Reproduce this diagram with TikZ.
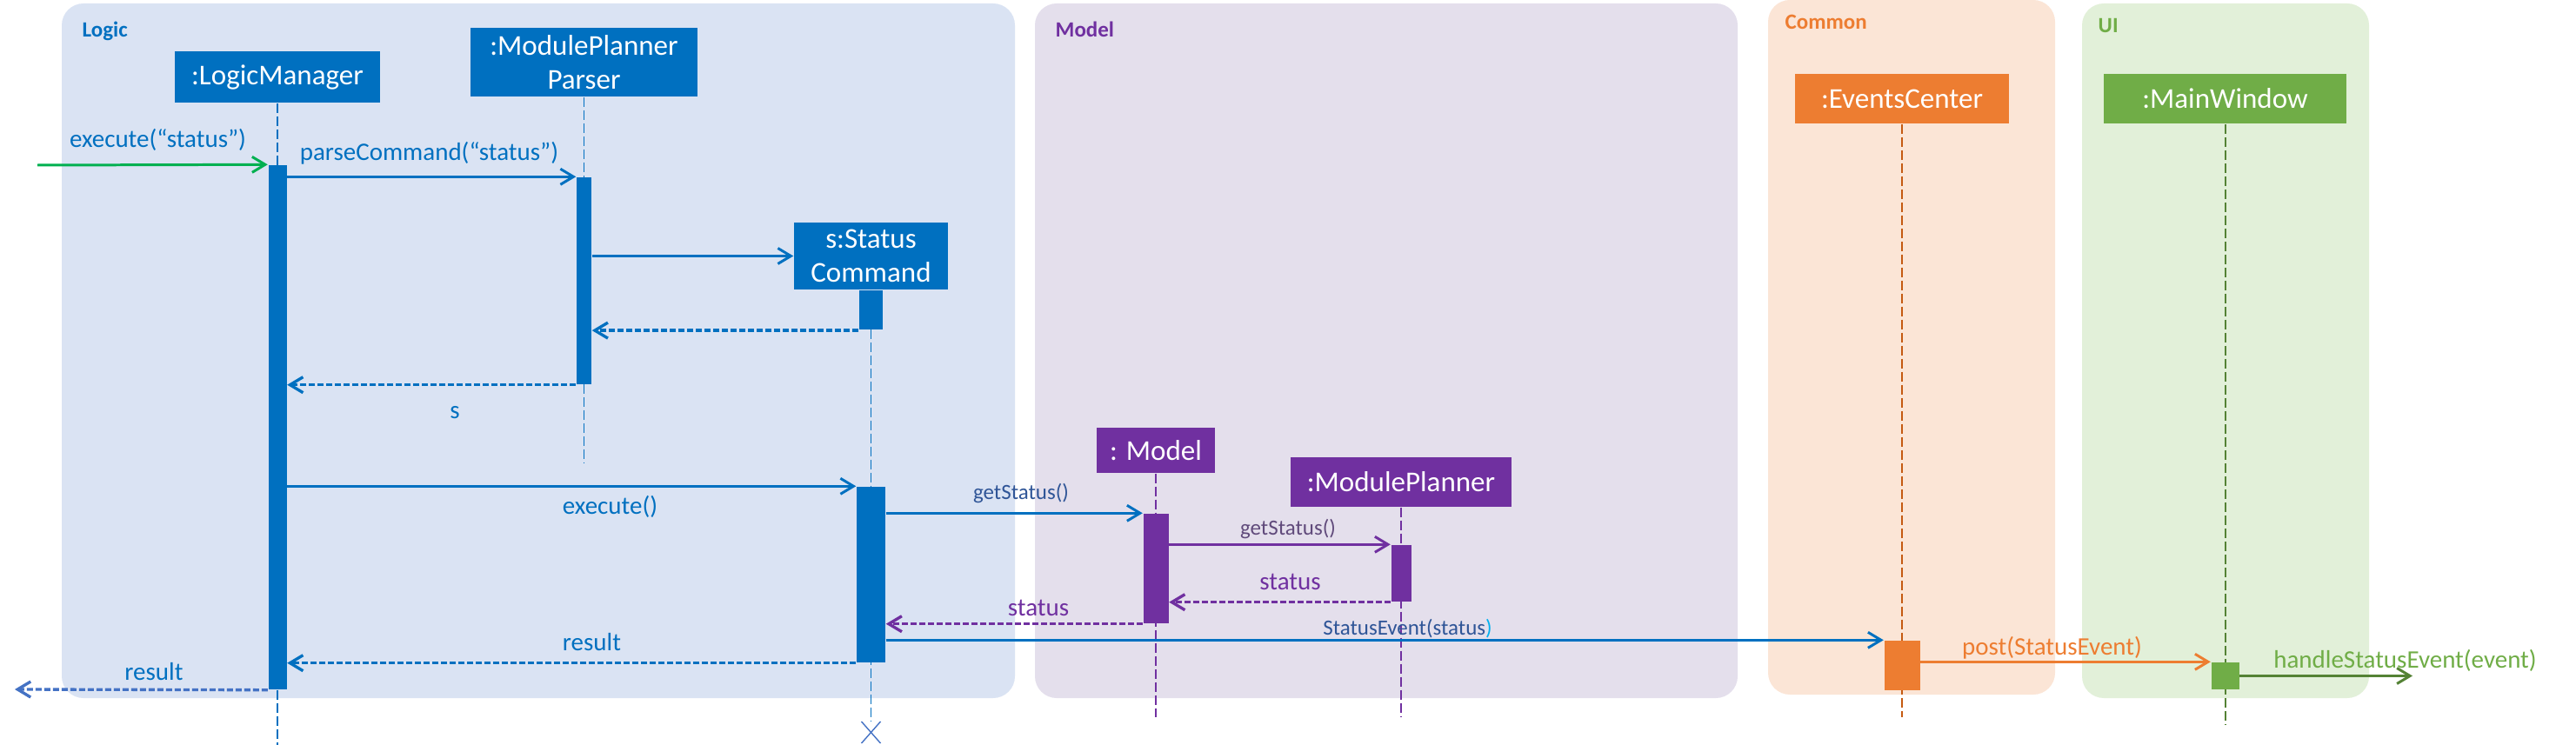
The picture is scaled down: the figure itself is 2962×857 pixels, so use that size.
\documentclass[tikz,border=0pt]{standalone}
\usepackage{fontspec}
\setmainfont{Carlito}
\usetikzlibrary{arrows.meta, calc}

\definecolor{logicblue}{HTML}{0070C0}
\definecolor{logicbg}{HTML}{DAE3F3}
\definecolor{modelpurple}{HTML}{7030A0}
\definecolor{modelbg}{HTML}{E4DFEC}
\definecolor{commonorange}{HTML}{ED7D31}
\definecolor{commondark}{HTML}{C55A11}
\definecolor{commonbg}{HTML}{FBE5D6}
\definecolor{uigreen}{HTML}{70AD47}
\definecolor{uidark}{HTML}{548235}
\definecolor{uibg}{HTML}{E2F0D9}
\definecolor{callgreen}{HTML}{00B050}
\definecolor{labelblue}{HTML}{2F5597}
\definecolor{labelpurple}{RGB}{96,74,123}
\definecolor{resultblue}{HTML}{4472C4}
\definecolor{parenblue}{HTML}{00B0F0}

\newcommand{\headfont}{\fontsize{9.4}{11.1}\selectfont}
\newcommand{\msgfont}{\fontsize{8.25}{10}\selectfont}
\newcommand{\notefont}{\fontsize{7.1}{8.5}\selectfont}
\newcommand{\panelfont}{\bfseries\fontsize{7.1}{8.5}\selectfont}

\begin{document}
\begin{tikzpicture}[x=0.1mm, y=-0.1mm,
	>={Straight Barb[length=1.5mm,width=1.8mm]},
	panel/.style={rounded corners=2.5mm},
	paneltitle/.style={anchor=base west, inner sep=0pt, font=\panelfont},
	headbox/.style={rectangle, text=white, inner sep=0pt, align=center, font=\headfont},
	actbar/.style={rectangle, inner sep=0pt},
	lifeline/.style={line width=0.55pt, dash pattern=on 1.1mm off 0.4mm},
	msg/.style={->, line width=0.85pt},
	ret/.style={->, line width=0.95pt, dash pattern=on 0.7mm off 0.3mm},
	msglbl/.style={anchor=base, inner sep=0pt, font=\msgfont},
	notelbl/.style={anchor=base, inner sep=0pt, font=\notefont}]

\useasboundingbox (0,0) rectangle (2962,857);

% ================= panels =================
\fill[logicbg, panel] (71,4) rectangle (1167,803);
\fill[modelbg, panel] (1190,4) rectangle (1998,803);
\fill[commonbg, panel] (2033,0) rectangle (2363,799);
\fill[uibg, panel] (2394,4) rectangle (2724,803);

\node[paneltitle, logicblue] (tlogic) at (94,43) {Logic};
\node[paneltitle, modelpurple] (tmodel) at (1213,43) {Model};
\node[paneltitle, commonorange] (tcommon) at (2052,34) {Common};
\node[paneltitle, uigreen] (tui) at (2412,38) {UI};

% ================= heads =================
\node[headbox, fill=logicblue, minimum width=23.6mm, minimum height=5.9mm] (lmhead) at (319,88.5) {:LogicManager};
\node[headbox, fill=logicblue, minimum width=26.1mm, minimum height=7.9mm] (phead) at (671.5,71.5) {:ModulePlanner\\Parser};
\node[headbox, fill=logicblue, minimum width=17.7mm, minimum height=7.7mm] (schead) at (1001.5,294.5) {s:Status\\Command};
\node[headbox, fill=modelpurple, minimum width=13.6mm, minimum height=5.2mm] (mhead) at (1329,518) {: Model};
\node[headbox, fill=modelpurple, minimum width=25.4mm, minimum height=5.7mm] (mphead) at (1611,554.5) {:ModulePlanner};
\node[headbox, fill=commonorange, minimum width=24.6mm, minimum height=5.7mm] (echead) at (2187,113.5) {:EventsCenter};
\node[headbox, fill=uigreen, minimum width=27.9mm, minimum height=5.7mm] (mwhead) at (2558.5,113.5) {:MainWindow};

% lifeline ends
\coordinate (lmend) at (lmhead |- 0,857);
\coordinate (pend) at (phead |- 0,532);
\coordinate (scend) at (schead |- 0,830);
\coordinate (mend) at (mhead |- 0,825);
\coordinate (mpend) at (mphead |- 0,825);
\coordinate (ecend) at (echead |- 0,825);
\coordinate (mwend) at (mwhead |- 0,833);

\draw[lifeline, logicblue] (lmhead.south) -- (lmend);
\draw[lifeline, logicblue] (phead.south) -- (pend);
\draw[lifeline, logicblue] (schead.south) -- (scend);
\draw[lifeline, modelpurple] (mhead.south) -- (mend);
\draw[lifeline, modelpurple] (mphead.south) -- (mpend);
\draw[lifeline, commondark] (echead.south) -- (ecend);
\draw[lifeline, uidark] (mwhead.south) -- (mwend);

% destroyed s:StatusCommand
\draw[resultblue, line width=0.4pt] ([xshift=-1.1mm]scend) -- ++(22,25);
\draw[resultblue, line width=0.4pt] ([xshift=1.1mm]scend) -- ++(-22,25);

% ================= activation bars =================
\node[actbar, fill=logicblue, minimum width=2.1mm, minimum height=60.3mm] (lmbar) at (lmhead |- 0,491.5) {};
\node[actbar, fill=logicblue, minimum width=1.7mm, minimum height=23.8mm] (pbar) at (phead |- 0,323) {};
\node[actbar, fill=logicblue, minimum width=2.7mm, minimum height=4.5mm, anchor=north] (scbar1) at (schead.south) {};
\node[actbar, fill=logicblue, minimum width=3.3mm, minimum height=20.2mm] (scbar2) at (schead |- 0,661) {};
\node[actbar, fill=modelpurple, minimum width=2.9mm, minimum height=12.6mm] (mbar) at (mhead |- 0,654) {};
\node[actbar, fill=modelpurple, minimum width=2.3mm, minimum height=6.5mm] (mpbar) at (mphead |- 0,659.5) {};
\node[actbar, fill=commonorange, minimum width=4.1mm, minimum height=5.7mm] (ecbar) at (echead |- 0,765.5) {};
\node[actbar, fill=uigreen, minimum width=3.2mm, minimum height=3.1mm] (mwbar) at (mwhead |- 0,777.5) {};

% ================= messages =================
\coordinate (in) at (43,190);
\coordinate (out) at (17,793);
\coordinate (hout) at (2774,0);

\draw[msg, callgreen] (in) -- (lmbar.north west);
\draw[msg, logicblue] (lmbar.east |- pbar.north) -- (pbar.north west);
\draw[msg, logicblue] (pbar.east |- schead) -- (schead.west);
\draw[ret, logicblue] (scbar1.south west) -- (pbar.east |- scbar1.south);
\draw[ret, logicblue] (pbar.south west) -- (lmbar.east |- pbar.south);
\draw[msg, logicblue] (lmbar.east |- scbar2.north) -- (scbar2.north west);
\draw[msg, logicblue] (scbar2.east |- mbar.north) -- (mbar.north west);
\draw[msg, modelpurple] (mbar.east |- mpbar.north) -- (mpbar.north west);
\draw[ret, modelpurple] (mpbar.south west) -- (mbar.east |- mpbar.south);
\draw[ret, modelpurple] (mbar.south west) -- (scbar2.east |- mbar.south);
\draw[msg, logicblue] (scbar2.east |- ecbar.north) -- (ecbar.north west);
\draw[ret, logicblue] (scbar2.south west) -- (lmbar.east |- scbar2.south);
\draw[ret, resultblue] (lmbar.south west) -- (out);
\draw[msg, commonorange] (ecbar.east |- mwbar.north) -- (mwbar.north west);
\draw[msg, uidark] (mwbar.east) -- (mwbar.east -| hout);

% labels
\node[msglbl, logicblue] (lexec) at (181.5,170) {execute(“status”)};
\node[msglbl, logicblue] (lparse) at (493.5,185) {parseCommand(“status”)};
\node[msglbl, logicblue] (ls) at (523,481) {s};
\node[msglbl, logicblue] (lexec2) at (701.5,591) {execute()};
\node[notelbl, labelblue] (lget) at (1174,574) {getStatus()};
\node[notelbl, labelpurple] (lget2) at (1481,615) {getStatus()};
\node[msglbl, modelpurple] (lstat) at (1483.5,678) {status};
\node[msglbl, modelpurple] (lstat2) at (1194,708) {status};
\node[notelbl, labelblue] (levent) at (1618.5,730) {StatusEvent(status\textcolor{parenblue}{)}};
\node[msglbl, logicblue] (lres) at (680.5,748) {result};
\node[msglbl, logicblue] (lres2) at (177,782) {result};
\node[msglbl, commonorange] (lpost) at (2359.5,753) {post(StatusEvent)};
\node[msglbl, uigreen] (lhandle) at (2765.5,768) {handleStatusEvent(event)};

\end{tikzpicture}
\end{document}
